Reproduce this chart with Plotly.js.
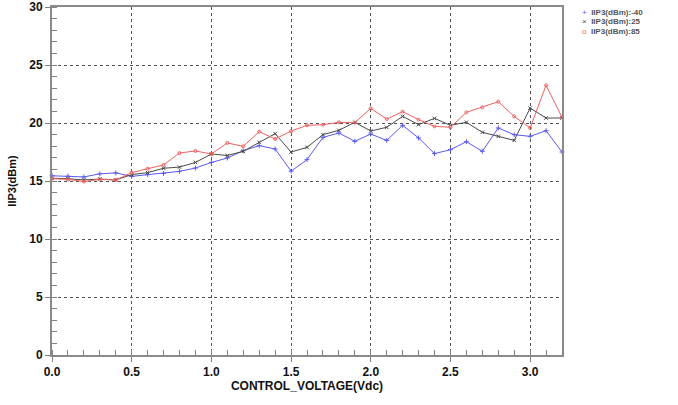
<!DOCTYPE html>
<html>
<head>
<meta charset="utf-8">
<script src="https://cdn.plot.ly/plotly-3.0.1.min.js"></script>
<style>
html,body{margin:0;padding:0;background:#fff;}
#chart{width:678px;height:405px;}
</style>
</head>
<body>
<div id="chart"></div>
<script>
// ---- data ----
const controlVoltage = [0.0,0.1,0.2,0.3,0.4,0.5,0.6,0.7,0.8,0.9,1.0,1.1,1.2,1.3,1.4,1.5,1.6,1.7,1.8,1.9,2.0,2.1,2.2,2.3,2.4,2.5,2.6,2.7,2.8,2.9,3.0,3.1,3.2];
const iip3_m40 = [15.45,15.42,15.35,15.62,15.7,15.4,15.55,15.65,15.83,16.12,16.6,16.98,17.61,18.05,17.76,15.85,16.84,18.76,19.14,18.42,19.05,18.5,19.8,18.71,17.36,17.7,18.39,17.56,19.57,18.99,18.85,19.34,17.5];
const iip3_25  = [15.23,15.2,15.09,15.17,15.09,15.55,15.72,16.1,16.2,16.6,17.33,17.2,17.56,18.33,19.08,17.5,17.9,19.0,19.37,20.06,19.31,19.63,20.57,19.86,20.4,19.8,20.06,19.2,18.85,18.5,21.29,20.43,20.43];
const iip3_85  = [15.2,15.14,14.95,15.14,15.09,15.72,16.06,16.38,17.41,17.59,17.33,18.28,17.99,19.25,18.62,19.3,19.8,19.85,20.06,20.03,21.26,20.34,20.98,20.29,19.71,19.63,20.92,21.35,21.84,20.57,19.57,23.25,20.49];
const seriesNames = ["IIP3(dBm):-40","IIP3(dBm):25","IIP3(dBm):85"];
const legendSymbols = ["+","\u00d7","o"];
const xTitle = "CONTROL_VOLTAGE(Vdc)";
const yTitle = "IIP3(dBm)";

const colors = ["#5a5af0","#4a4a4a","#f06060"];
const symbols = ["cross-thin-open","x-thin-open","circle-open"];
const series = [iip3_m40, iip3_25, iip3_85];

const traces = series.map((ys,i)=>({
  x: controlVoltage, y: ys, type:"scatter", mode:"lines+markers",
  name: seriesNames[i], showlegend:false, cliponaxis:false,
  line:{color:colors[i], width:1},
  marker:{symbol:symbols[i], size:i===2?3:3.5, color:colors[i], line:{color:colors[i], width:1}}
}));

const legendRowsY = [0.985, 0.958, 0.931];
const annotations = seriesNames.map((n,i)=>({
  xref:"paper", yref:"paper", x:1.035, y:legendRowsY[i], xanchor:"left", yanchor:"middle",
  showarrow:false,
  text:'<span style="color:'+colors[i]+'">'+legendSymbols[i]+'</span>  <b>'+n+'</b>',
  font:{family:"Liberation Sans, Arial, sans-serif", size:8, color:"#555"}
}));

const axisFont = {family:"Liberation Sans, Arial, sans-serif", size:12, color:"#111", weight:"bold"};

const layout = {
  width:678, height:405,
  margin:{l:52, r:115.5, t:6.5, b:49.5},
  paper_bgcolor:"#fff", plot_bgcolor:"#fff",
  showlegend:false,
  xaxis:{
    range:[0,3.2], tick0:0, dtick:0.5, tickformat:".1f",
    ticks:"outside", ticklen:5, tickcolor:"#808080", tickwidth:1,
    showline:true, linecolor:"#8a8a8a", linewidth:2, mirror:true,
    showgrid:true, gridcolor:"#555", griddash:"dot", gridwidth:1,
    zeroline:false,
    minor:{dtick:0.1, ticks:"inside", ticklen:5, tickcolor:"#808080", showgrid:false},
    tickfont:axisFont,
    title:{text:"<b>"+xTitle+"</b>", font:{family:"Liberation Sans, Arial, sans-serif", size:12, color:"#111"}, standoff:1}
  },
  yaxis:{
    range:[0,30], tick0:0, dtick:5,
    ticks:"outside", ticklen:5, tickcolor:"#808080", tickwidth:1,
    showline:true, linecolor:"#8a8a8a", linewidth:2, mirror:true,
    showgrid:true, gridcolor:"#555", griddash:"dot", gridwidth:1,
    zeroline:false,
    minor:{dtick:1, ticks:"inside", ticklen:5, tickcolor:"#808080", showgrid:false},
    tickfont:axisFont,
    title:{text:"<b>"+yTitle+"</b>", font:{family:"Liberation Sans, Arial, sans-serif", size:11, color:"#111"}, standoff:10}
  },
  annotations: annotations
};

Plotly.newPlot("chart", traces, layout, {staticPlot:true, displayModeBar:false});
</script>
</body>
</html>
